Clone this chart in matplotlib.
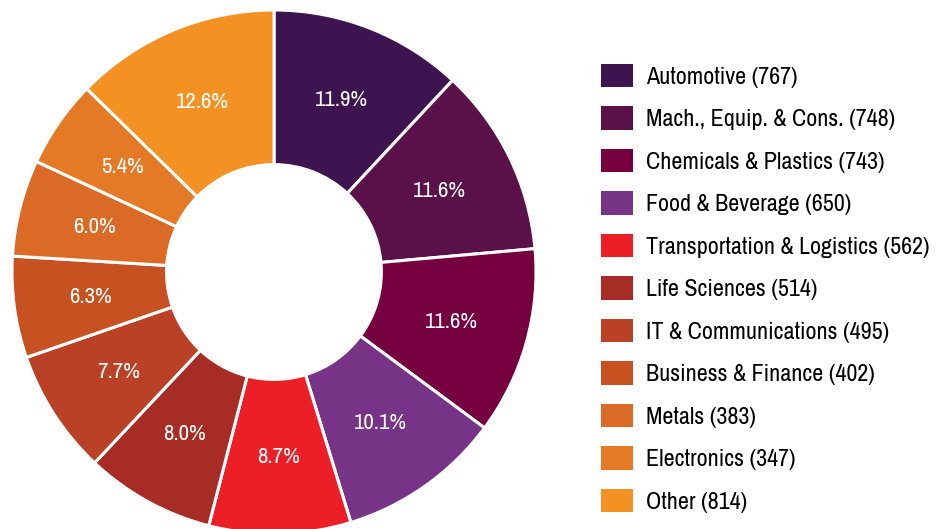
import matplotlib.pyplot as plt
from matplotlib.patches import Patch
from matplotlib import font_manager
import numpy as np

categories = ['Automotive', 'Mach., Equip. & Cons.', 'Chemicals & Plastics', 'Food & Beverage',
              'Transportation & Logistics', 'Life Sciences', 'IT & Communications',
              'Business & Finance', 'Metals', 'Electronics', 'Other']
counts = [767, 748, 743, 650, 562, 514, 495, 402, 383, 347, 814]
shares = [11.9, 11.6, 11.6, 10.1, 8.7, 8.0, 7.7, 6.3, 6.0, 5.4, 12.6]
colors = ['#3d1350', '#5a1048', '#76003f', '#773385', '#ec1f27', '#a82c26',
          '#ba4126', '#c85122', '#da6a25', '#e47a25', '#f39222']

# a condensed face is closest to the original typeface
names = sorted({f.name for f in font_manager.fontManager.ttflist})
narrow = [n for n in names if 'Condensed' in n or 'Narrow' in n]
if narrow:
    plt.rcParams['font.family'] = [narrow[0], 'DejaVu Sans']
    leg_fs, pct_fs, ls = 17.3, 16.5, 0.775
else:
    plt.rcParams['font.family'] = ['Roboto', 'DejaVu Sans']
    leg_fs, pct_fs, ls = 14.4, 14.5, 1.0
px = leg_fs * 100 / 72

fig = plt.figure(figsize=(9.37, 5.29), dpi=100)
ax = fig.add_axes([12 / 937, -5 / 529, 524 / 937, 524 / 529])
wedges, texts = ax.pie(counts, colors=colors, startangle=90, counterclock=False,
                       radius=1,
                       wedgeprops=dict(width=0.59, edgecolor='white', linewidth=2.2))
ax.set_xlim(-1, 1)
ax.set_ylim(-1, 1)

# percentage labels in the middle of each ring segment
for w, s in zip(wedges, shares):
    ang = np.deg2rad((w.theta1 + w.theta2) / 2)
    r = 0.705
    ax.text(r * np.cos(ang), r * np.sin(ang), f'{s:.1f}%',
            ha='center', va='center', color='white', fontsize=pct_fs)

handles = [Patch(facecolor=col) for col in colors]
labels = [f'{n} ({c})' for n, c in zip(categories, counts)]
fig.legend(handles, labels, loc='upper left', bbox_to_anchor=(601 / 937, 1 - 64 / 529),
           frameon=False, fontsize=leg_fs, handlelength=32 / px, handleheight=27 / px,
           handletextpad=13 / px, labelspacing=ls, borderaxespad=0, borderpad=0)

fig.savefig('out.png', dpi=100)
